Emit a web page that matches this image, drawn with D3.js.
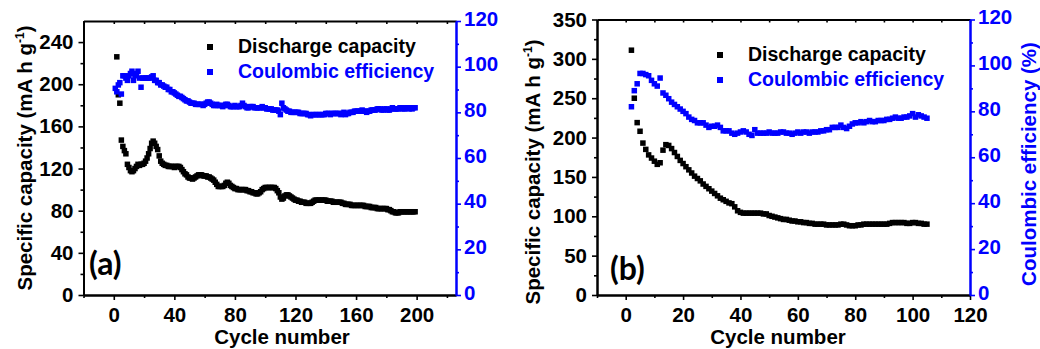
<!DOCTYPE html>
<html>
<head>
<meta charset="utf-8">
<script src="https://cdn.jsdelivr.net/npm/d3@7/dist/d3.min.js"></script>
<style>
  body { margin: 0; background: #fff; }
  text { font-family: "Liberation Sans", Arial, sans-serif; font-weight: bold; }
</style>
</head>
<body>
<svg id="chart" width="1040" height="349"></svg>
<script>
// panel (a): discharge capacity from cycle 2, coulombic efficiency from cycle 1
const capAStart = 2;
const capA = [226,190,182,147,141,137,134,124,121,118,
  117,118,120,122,124,123,124,124,125,127,
  130,134,139,144,146,144,141,138,132,127,
  125,124,123,123,122,122,122,122,121,122,
  122,122,121,119,117,115,114,112,111,111,
  110,111,112,113,114,114,114,113,113,113,
  112,112,111,110,109,107,105,103,103,103,
  103,104,106,107,106,104,103,102,101,101,
  100,100,100,100,100,100,99,99,98,98,
  97,97,96,96,97,98,100,101,102,102,
  102,102,102,102,102,101,99,97,93,91,
  92,94,95,95,94,93,92,91,90,90,
  89,89,88,88,88,87,87,87,87,88,
  89,90,90,90,90,90,90,90,90,89,
  89,89,89,88,88,88,88,88,88,87,
  87,86,86,86,86,85,85,85,85,85,
  85,85,85,85,84,84,84,84,83,83,
  83,83,82,82,82,82,82,82,82,81,
  81,80,79,79,78,78,78,79,79,79,
  79,79,79,79,79,79,79,79];
const ceAStart = 1;
const ceA = [90.5,89,92,93,88,96,96,95,94,96,
  97,98,94,96,97,98,95,91,95,95,
  95,95,95,95,95.5,96,94,94,93,93,
  92,92,91.5,91,91,90,90,89,89,88.5,
  88,87.5,87,87,86.5,86,85.5,85,85,84.5,
  84,84,84,83.5,83.5,83.5,83.5,83.5,83,83.5,
  84,84.5,84.5,84,83.5,83,83,83.5,83,83,
  83,82.5,83,83.5,83.5,83,82.5,82.5,82.5,83,
  82.5,82.5,82.5,83,84,83,82.5,82,82,82.5,
  82.5,82.5,82,82,82,82,82,82.5,82,82,
  81.5,81.5,81.5,81.5,81,81,81,81,80.5,79,
  84,82,81.5,81,80.5,80.5,80,80,80,80,
  80,80,79.5,79.5,79.5,79.5,79.5,79,79,78.5,
  79,79,79,79,79,79,79,79,79,79.5,
  79.5,79.5,79,79.5,79.5,79.5,79.5,79.5,79.5,79,
  79.5,80,79,79.5,79.5,80,80,80,80.5,80.5,
  80.5,80.5,80.5,81,80.5,80.5,80,80.5,80.5,81,
  81,81,81,81.5,81.5,81.5,81,81,81.5,81.5,
  81,81,81.5,82,81.5,81.5,81.5,81.5,82,82,
  81.5,81.5,82,82,81.5,82,81.5,82,82];

// panel (b): both series from cycle 2
const capBStart = 2;
const capB = [311,250,219,208,193,185,178,174,170,166,
  168,184,191,190,186,181,176,171,167,163,
  159,155,151,148,145,141,138,135,132,129,
  126,123,121,119,117,116,112,107,105,104,
  104,104,104,104,104,104,103,103,101,100,
  99,98,97,96,96,95,94,94,93,93,
  92,92,91,91,90,90,90,90,89,89,
  89,89,89,90,90,89,88,88,88,89,
  89,90,90,90,90,90,90,90,90,90,
  91,92,92,92,92,92,91,91,92,92,
  91,91,90,90];
const ceBStart = 2;
const ceB = [82,89,92,96.5,96.5,96,95.5,93.5,92,91,
  94.5,88,87,85.5,84,83,82,81,80,79,
  77.5,76.5,76,75,75,75,74,73,73.5,73.5,
  74,73,71.5,71.5,71.5,70.5,70,70.5,71,71.5,
  71,70,69.5,72,70.5,70.5,70.5,70.5,71,70.5,
  70.5,70.5,71,71,70.5,70.5,70,70.5,71,70.5,
  71,71,70.5,71,71,71,71.5,71.5,72,72,
  73,73,73,74,73,72.5,73.5,74.5,75,75,
  75.5,75,75.5,76,75.5,75.5,76,76,76,76.5,
  76.5,77,77.5,77,77,77.5,77.5,78,79,77.5,
  78.5,78,77.5,77];

// tick labels
const xTicksA = [0, 40, 80, 120, 160, 200];
const xMinorA = [-20, 20, 60, 100, 140, 180, 220];
const yTicksA = [0, 40, 80, 120, 160, 200, 240];
const yMinorA = [20, 60, 100, 140, 180, 220];
const xTicksB = [0, 20, 40, 60, 80, 100, 120];
const xMinorB = [-10, 10, 30, 50, 70, 90, 110];
const yTicksB = [0, 50, 100, 150, 200, 250, 300, 350];
const yMinorB = [25, 75, 125, 175, 225, 275, 325];
const ceTicks = [0, 20, 40, 60, 80, 100, 120];
const ceMinor = [10, 30, 50, 70, 90, 110];

const legendLabels = ['Discharge capacity', 'Coulombic efficiency'];
const BLUE = '#0000ff';

const svg = d3.select('#chart');

function toPoints(values, start) {
  return values.map((v, i) => ({ c: start + i, v: v }));
}

function drawPanel(p) {
  const g = svg.append('g');
  const x = d3.scaleLinear().domain(p.xDomain).range([p.left, p.right]);
  const y = d3.scaleLinear().domain(p.yDomain).range([p.bottom, p.top]);
  const y2 = d3.scaleLinear().domain([0, 120]).range([p.bottom, p.top]);

  // top frame with small inward ticks
  g.append('g')
    .attr('transform', `translate(0,${p.top})`)
    .call(d3.axisBottom(x).tickValues(p.xTicks.concat(p.xMinor)).tickSize(3).tickSizeOuter(0).tickFormat(''));

  // bottom axis, major + minor
  g.append('g')
    .attr('transform', `translate(0,${p.bottom})`)
    .call(d3.axisBottom(x).tickValues(p.xMinor).tickSize(3).tickSizeOuter(0).tickFormat(''));
  g.append('g')
    .attr('transform', `translate(0,${p.bottom})`)
    .call(d3.axisBottom(x).tickValues(p.xTicks).tickSize(5).tickSizeOuter(0).tickPadding(7));

  // left axis
  g.append('g')
    .attr('transform', `translate(${p.left},0)`)
    .call(d3.axisLeft(y).tickValues(p.yMinor).tickSize(3).tickSizeOuter(0).tickFormat(''));
  g.append('g')
    .attr('transform', `translate(${p.left},0)`)
    .call(d3.axisLeft(y).tickValues(p.yTicks).tickSize(5).tickSizeOuter(0).tickPadding(5));

  // right axis, blue
  g.append('g')
    .attr('class', 'blue')
    .attr('transform', `translate(${p.right},0)`)
    .call(d3.axisRight(y2).tickValues(ceMinor).tickSize(3).tickSizeOuter(0).tickFormat(''));
  g.append('g')
    .attr('class', 'blue')
    .attr('transform', `translate(${p.right},0)`)
    .call(d3.axisRight(y2).tickValues(ceTicks).tickSize(5).tickSizeOuter(0).tickPadding(3));

  g.selectAll('.domain').attr('stroke-width', 2);
  g.selectAll('.tick line').attr('stroke-width', 1.6);
  g.selectAll('.tick text')
    .style('font-size', '20.5px')
    .attr('fill', '#000');
  g.selectAll('.blue .domain, .blue .tick line').attr('stroke', BLUE);
  g.selectAll('.blue .tick text').attr('fill', BLUE).attr('dy', '0.2em');

  // markers
  const sz = 5.5;
  g.append('g').selectAll('rect')
    .data(toPoints(p.cap, p.capStart))
    .join('rect')
    .attr('x', d => x(d.c) - sz / 2)
    .attr('y', d => y(d.v) - sz / 2)
    .attr('width', sz).attr('height', sz)
    .attr('fill', '#000');
  g.append('g').selectAll('rect')
    .data(toPoints(p.ce, p.ceStart))
    .join('rect')
    .attr('x', d => x(d.c) - sz / 2)
    .attr('y', d => y2(d.v) - sz / 2)
    .attr('width', sz).attr('height', sz)
    .attr('fill', BLUE);

  // legend
  const lg = g.append('g').attr('transform', `translate(${p.legX},${p.legY})`);
  legendLabels.forEach((t, i) => {
    const col = i === 0 ? '#000' : BLUE;
    lg.append('rect').attr('x', -3).attr('y', i * 25 - 9).attr('width', 6).attr('height', 6).attr('fill', col);
    lg.append('text').attr('x', 28).attr('y', i * 25).attr('fill', col)
      .style('font-size', '19.5px').text(t);
  });

  // panel letter
  g.append('text')
    .attr('x', p.tagX).attr('y', p.tagY)
    .style('font-family', 'Lato, "Open Sans", sans-serif')
    .style('font-size', '32px')
    .text(p.tag);

  // x title
  g.append('text')
    .attr('x', p.xTitleX).attr('y', 344)
    .attr('text-anchor', 'middle')
    .style('font-size', '20.5px')
    .text('Cycle number');

  // y title with superscript
  const yt = g.append('text')
    .attr('transform', `translate(${p.yTitleX},${p.yTitleY}) rotate(-90)`)
    .attr('text-anchor', 'middle')
    .style('font-size', '20.5px');
  yt.append('tspan').text('Specific capacity (mA h g');
  yt.append('tspan').attr('dy', -8).style('font-size', '12px').text('-1');
  yt.append('tspan').attr('dy', 8).text(')');

  if (p.y2Title) {
    g.append('text')
      .attr('transform', `translate(${p.y2TitleX},${p.yTitleY - 8}) rotate(-90)`)
      .attr('text-anchor', 'middle')
      .attr('fill', BLUE)
      .style('font-size', '20.5px')
      .text('Coulombic efficiency (%)');
  }
}

drawPanel({
  left: 83.5, right: 456, top: 21, bottom: 295,
  xDomain: [-20, 226], yDomain: [0, 260],
  xTicks: xTicksA, xMinor: xMinorA, yTicks: yTicksA, yMinor: yMinorA,
  cap: capA, capStart: capAStart, ce: ceA, ceStart: ceAStart,
  legX: 210, legY: 53, tag: '(a)', tagX: 89, tagY: 275,
  xTitleX: 282, yTitleX: 32, yTitleY: 158, y2Title: false
});

drawPanel({
  left: 597, right: 970, top: 19.5, bottom: 295,
  xDomain: [-10, 120], yDomain: [0, 350],
  xTicks: xTicksB, xMinor: xMinorB, yTicks: yTicksB, yMinor: yMinorB,
  cap: capB, capStart: capBStart, ce: ceB, ceStart: ceBStart,
  legX: 720, legY: 61, tag: '(b)', tagX: 610, tagY: 280,
  xTitleX: 778, yTitleX: 540, yTitleY: 172, y2Title: true, y2TitleX: 1036
});
</script>
</body>
</html>
